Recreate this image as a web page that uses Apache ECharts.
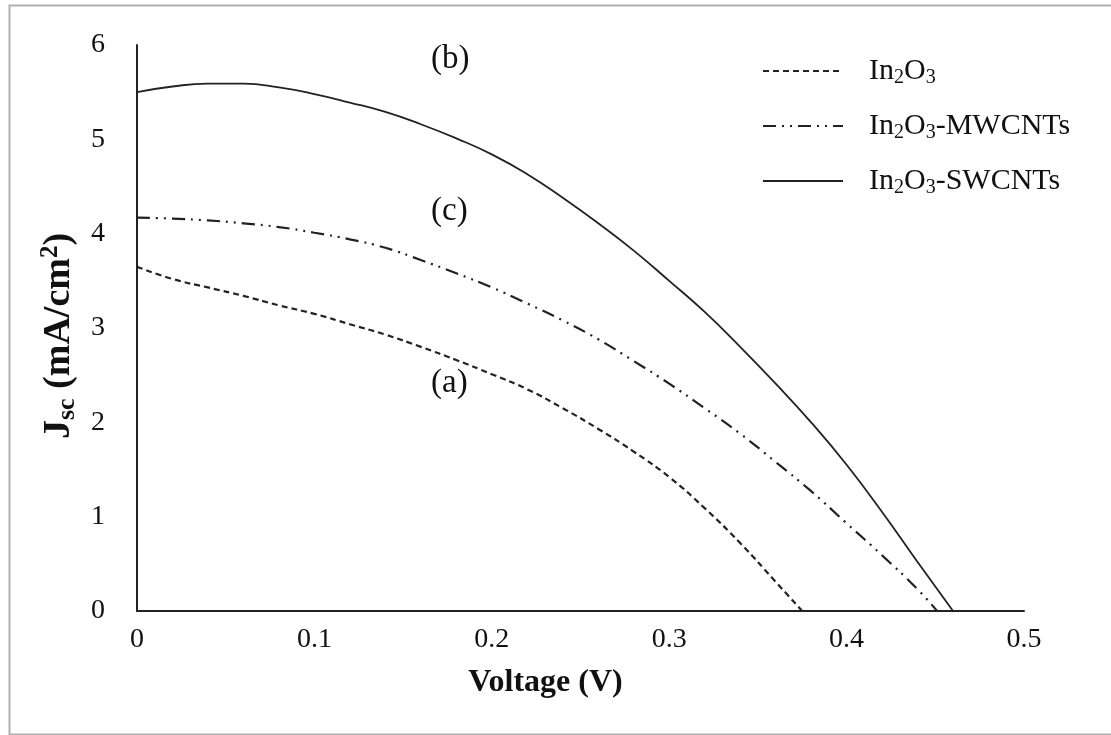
<!DOCTYPE html>
<html>
<head>
<meta charset="utf-8">
<script src="https://cdn.jsdelivr.net/npm/echarts@6/dist/echarts.min.js"></script>
<style>
  html, body { margin: 0; padding: 0; background: #fff; }
  #chart { width: 1111px; height: 735px; }
</style>
</head>
<body>
<div id="chart"></div>
<script>
// J-V curves
var seriesNames = ["In2O3", "In2O3-MWCNTs", "In2O3-SWCNTs"];

var voltIn2O3 = [0, 0.02, 0.04, 0.06, 0.08, 0.1, 0.12, 0.14, 0.16, 0.18, 0.2, 0.22, 0.24, 0.26, 0.28, 0.3, 0.32, 0.34, 0.36, 0.375];
var jscIn2O3 = [3.65, 3.52, 3.43, 3.34, 3.24, 3.15, 3.04, 2.93, 2.8, 2.66, 2.51, 2.35, 2.15, 1.93, 1.69, 1.42, 1.09, 0.72, 0.31, 0];

var voltMW = [0, 0.02, 0.04, 0.06, 0.08, 0.1, 0.12, 0.14, 0.16, 0.18, 0.2, 0.22, 0.24, 0.26, 0.28, 0.3, 0.32, 0.34, 0.36, 0.38, 0.4, 0.42, 0.44, 0.451];
var jscMW = [4.17, 4.16, 4.14, 4.11, 4.07, 4.01, 3.94, 3.85, 3.72, 3.58, 3.43, 3.26, 3.08, 2.88, 2.65, 2.41, 2.15, 1.88, 1.58, 1.27, 0.93, 0.59, 0.23, 0];

var voltSW = [0, 0.02, 0.04, 0.06, 0.08, 0.1, 0.12, 0.14, 0.16, 0.18, 0.2, 0.22, 0.24, 0.26, 0.28, 0.3, 0.32, 0.34, 0.36, 0.38, 0.4, 0.42, 0.44, 0.46];
var jscSW = [5.5, 5.56, 5.59, 5.59, 5.55, 5.48, 5.39, 5.29, 5.16, 5.01, 4.84, 4.63, 4.38, 4.11, 3.82, 3.5, 3.17, 2.8, 2.41, 2.0, 1.55, 1.05, 0.52, 0];

var xTicks = [0, 0.1, 0.2, 0.3, 0.4, 0.5];
var yTicks = [0, 1, 2, 3, 4, 5, 6];

function pairs(xs, ys) {
  return xs.map(function (x, i) { return [x, ys[i]]; });
}

var serif = "'Liberation Serif', 'DejaVu Serif', serif";

var myChart = echarts.init(document.getElementById("chart"));
myChart.setOption({
  backgroundColor: "#fff",
  animation: false,
  grid: { left: 137, right: 87, top: 45, bottom: 124 },
  legend: {
    orient: "vertical",
    left: 757,
    top: 50,
    itemWidth: 80,
    itemHeight: 14,
    itemGap: 22,
    data: seriesNames,
    itemStyle: { opacity: 0 },
    formatter: function (name) {
      return "{n|" + name.replace(/(\d)/g, "}{s|$1}{n|") + "}";
    },
    textStyle: {
      padding: [0, 0, 0, 21],
      rich: {
        n: { fontFamily: serif, fontSize: 30, color: "#111", lineHeight: 34 },
        s: { fontFamily: serif, fontSize: 20, color: "#111", lineHeight: 34, verticalAlign: "bottom", padding: [13, 0, 0, 0] }
      }
    }
  },
  xAxis: {
    type: "value",
    min: 0,
    max: 0.5,
    interval: 0.1,
    name: "Voltage (V)",
    nameLocation: "middle",
    nameGap: 56,
    nameTextStyle: { fontFamily: serif, fontSize: 32, fontWeight: "bold", color: "#111", padding: [0, 70, 0, 0] },
    axisLine: { lineStyle: { color: "#222", width: 2 } },
    axisTick: { show: false },
    splitLine: { show: false },
    axisLabel: {
      margin: 15,
      fontFamily: serif,
      fontSize: 28,
      color: "#111",
      formatter: function (v) { return xTicks.indexOf(Math.round(v * 10) / 10) >= 0 ? String(Math.round(v * 10) / 10) : ""; }
    }
  },
  yAxis: {
    type: "value",
    min: 0,
    max: 6,
    interval: 1,
    name: "{b|J}{bs|sc}{b| (mA/cm}{bp|2}{b|)}",
    nameLocation: "middle",
    nameGap: 55,
    nameTextStyle: {
      padding: [0, 16, 0, 0],
      rich: {
        b: { fontFamily: serif, fontSize: 38, fontWeight: "bold", color: "#111", lineHeight: 42 },
        bs: { fontFamily: serif, fontSize: 26, fontWeight: "bold", color: "#111", lineHeight: 42, verticalAlign: "bottom", padding: [15, 0, 0, 0] },
        bp: { fontFamily: serif, fontSize: 25, fontWeight: "bold", color: "#111", lineHeight: 42, verticalAlign: "top", padding: [0, 0, 13, 0] }
      }
    },
    axisLine: { show: true, lineStyle: { color: "#222", width: 2 } },
    axisTick: { show: false },
    splitLine: { show: false },
    axisLabel: {
      margin: 32,
      fontFamily: serif,
      fontSize: 28,
      color: "#111",
      formatter: function (v) { return yTicks.indexOf(v) >= 0 ? String(v) : ""; }
    }
  },
  series: [
    {
      name: seriesNames[0],
      type: "line",
      symbol: "none",
      smooth: 0.5,
      lineStyle: { color: "#222", width: 2.2, type: [6, 4] },
      itemStyle: { color: "#222" },
      data: pairs(voltIn2O3, jscIn2O3)
    },
    {
      name: seriesNames[1],
      type: "line",
      symbol: "none",
      smooth: 0.5,
      lineStyle: { color: "#222", width: 2.2, type: [13, 6, 2, 6, 2, 6] },
      itemStyle: { color: "#222" },
      data: pairs(voltMW, jscMW)
    },
    {
      name: seriesNames[2],
      type: "line",
      symbol: "none",
      smooth: 0.5,
      lineStyle: { color: "#222", width: 1.8 },
      itemStyle: { color: "#222" },
      data: pairs(voltSW, jscSW)
    }
  ],
  graphic: [
    {
      type: "rect",
      left: 7,
      top: 3,
      shape: { width: 1110, height: 729 },
      style: { fill: "none", stroke: "#b0b0b0", lineWidth: 2 },
      silent: true
    },
    { type: "text", left: 431, top: 43, style: { text: "(b)", font: "33px " + serif, fill: "#111" } },
    { type: "text", left: 431, top: 195, style: { text: "(c)", font: "33px " + serif, fill: "#111" } },
    { type: "text", left: 431, top: 367, style: { text: "(a)", font: "33px " + serif, fill: "#111" } }
  ]
});
</script>
</body>
</html>
